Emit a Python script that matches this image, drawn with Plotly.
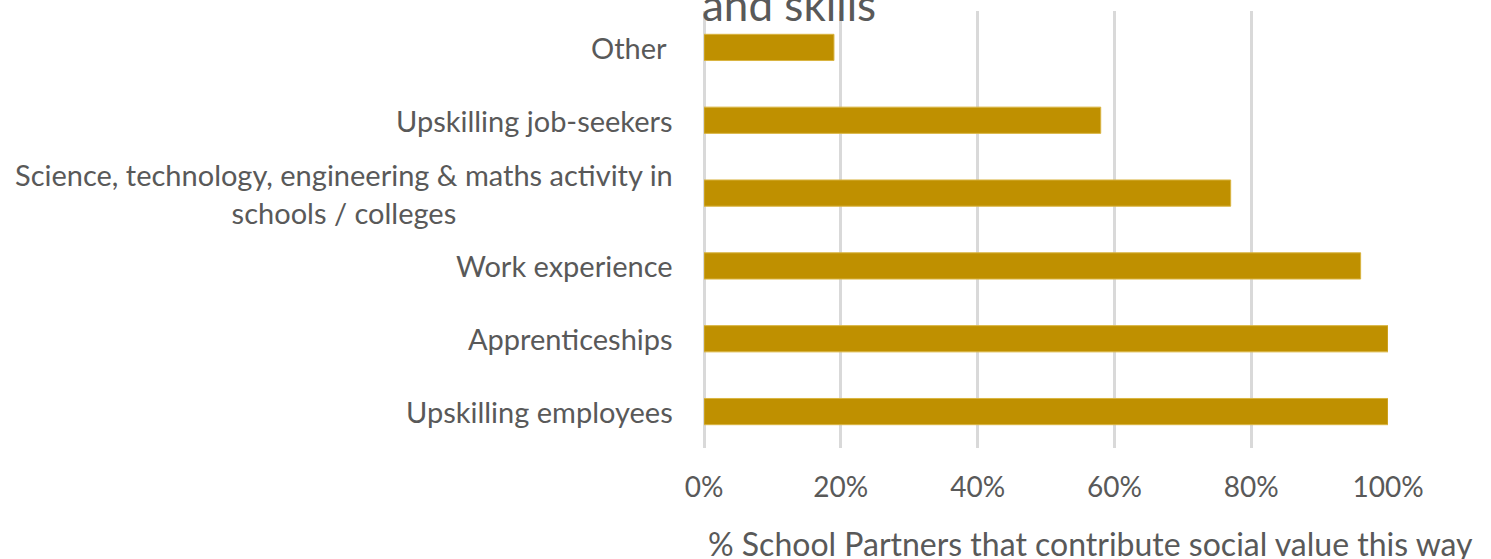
import plotly.graph_objects as go

# Share of School Partners contributing social value in each way
categories = [
    "Other\u00a0",
    "Upskilling job-seekers",
    "Science, technology, engineering & maths activity in<br>schools / colleges",
    "Work experience",
    "Apprenticeships",
    "Upskilling employees",
]
shares = [0.19, 0.58, 0.77, 0.96, 1.00, 1.00]
tick_values = [0, 0.2, 0.4, 0.6, 0.8, 1.0]
tick_labels = ["0%", "20%", "40%", "60%", "80%", "100%"]

title_tail = "and skills"
axis_title = "% School Partners that contribute social value this way"

FONT = "Lato"
GREY = "#595959"
GOLD = "#BF9000"
GRID = "#D9D9D9"

fig = go.Figure()
fig.add_trace(go.Bar(
    x=shares,
    y=list(range(len(categories))),
    orientation="h",
    marker=dict(color=GOLD, line=dict(color="#D9B440", width=1)),
    width=0.36,
    hoverinfo="skip",
))

annotations = []
for i, name in enumerate(categories):
    annotations.append(dict(
        x=0, y=i, xref="paper", yref="y",
        text=name, showarrow=False,
        xanchor="right", yanchor="middle", align="center",
        xshift=-29,
        font=dict(family=FONT, size=29, color=GREY),
    ))

annotations.append(dict(
    x=0, y=1, xref="paper", yref="paper",
    text=title_tail, showarrow=False,
    xanchor="left", yanchor="bottom", yshift=-21, xshift=-4,
    font=dict(family=FONT, size=44, color=GREY),
))
annotations.append(dict(
    x=0, y=0, xref="paper", yref="paper",
    text=axis_title, showarrow=False,
    xanchor="left", yanchor="top", yshift=-74, xshift=2,
    font=dict(family=FONT, size=32, color=GREY),
))

fig.update_layout(
    width=1491, height=559,
    margin=dict(l=704, r=103, t=11, b=111),
    plot_bgcolor="white", paper_bgcolor="white",
    showlegend=False,
    annotations=annotations,
    xaxis=dict(
        range=[0, 1.0], tickvals=tick_values, ticktext=tick_labels,
        showgrid=True, gridcolor=GRID, gridwidth=3,
        zeroline=True, zerolinecolor=GRID, zerolinewidth=3,
        showline=False, ticks="", ticklabelstandoff=20,
        tickfont=dict(family=FONT, size=28, color=GREY),
        fixedrange=True,
    ),
    yaxis=dict(
        range=[len(categories) - 0.5, -0.5],
        showticklabels=False, showgrid=False, zeroline=False,
        fixedrange=True,
    ),
)

fig.write_html("out.html")
